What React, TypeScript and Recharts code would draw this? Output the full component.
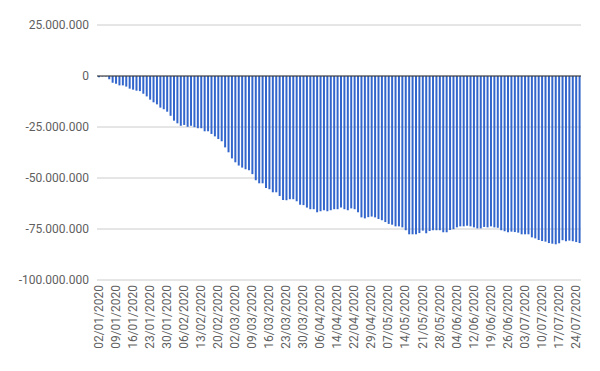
import { BarChart, Bar, XAxis, YAxis, CartesianGrid, ReferenceLine } from 'recharts';

// B3 trading days, 2020
const dates = [
  '02/01/2020', '03/01/2020', '06/01/2020', '07/01/2020', '08/01/2020', '09/01/2020', '10/01/2020', '13/01/2020', '14/01/2020', '15/01/2020',
  '16/01/2020', '17/01/2020', '20/01/2020', '21/01/2020', '22/01/2020', '23/01/2020', '24/01/2020', '27/01/2020', '28/01/2020', '29/01/2020',
  '30/01/2020', '31/01/2020', '03/02/2020', '04/02/2020', '05/02/2020', '06/02/2020', '07/02/2020', '10/02/2020', '11/02/2020', '12/02/2020',
  '13/02/2020', '14/02/2020', '17/02/2020', '18/02/2020', '19/02/2020', '20/02/2020', '21/02/2020', '26/02/2020', '27/02/2020', '28/02/2020',
  '02/03/2020', '03/03/2020', '04/03/2020', '05/03/2020', '06/03/2020', '09/03/2020', '10/03/2020', '11/03/2020', '12/03/2020', '13/03/2020',
  '16/03/2020', '17/03/2020', '18/03/2020', '19/03/2020', '20/03/2020', '23/03/2020', '24/03/2020', '25/03/2020', '26/03/2020', '27/03/2020',
  '30/03/2020', '31/03/2020', '01/04/2020', '02/04/2020', '03/04/2020', '06/04/2020', '07/04/2020', '08/04/2020', '09/04/2020', '13/04/2020',
  '14/04/2020', '15/04/2020', '16/04/2020', '17/04/2020', '20/04/2020', '22/04/2020', '23/04/2020', '24/04/2020', '27/04/2020', '28/04/2020',
  '29/04/2020', '30/04/2020', '04/05/2020', '05/05/2020', '06/05/2020', '07/05/2020', '08/05/2020', '11/05/2020', '12/05/2020', '13/05/2020',
  '14/05/2020', '15/05/2020', '18/05/2020', '19/05/2020', '20/05/2020', '21/05/2020', '22/05/2020', '25/05/2020', '26/05/2020', '27/05/2020',
  '28/05/2020', '29/05/2020', '01/06/2020', '02/06/2020', '03/06/2020', '04/06/2020', '05/06/2020', '08/06/2020', '09/06/2020', '10/06/2020',
  '12/06/2020', '15/06/2020', '16/06/2020', '17/06/2020', '18/06/2020', '19/06/2020', '22/06/2020', '23/06/2020', '24/06/2020', '25/06/2020',
  '26/06/2020', '29/06/2020', '30/06/2020', '01/07/2020', '02/07/2020', '03/07/2020', '06/07/2020', '07/07/2020', '08/07/2020', '09/07/2020',
  '10/07/2020', '13/07/2020', '14/07/2020', '15/07/2020', '16/07/2020', '17/07/2020', '20/07/2020', '21/07/2020', '22/07/2020', '23/07/2020',
  '24/07/2020', '27/07/2020',
];

// cumulative balance, in millions
const balance = [
  -0.6, -0.2, -0.2, -1.6, -3.3, -3.8, -4.6, -4.6, -5.2, -6.2,
  -6.7, -7.2, -7.4, -8.7, -10.0, -11.6, -12.9, -13.9, -15.5, -16.3,
  -17.5, -19.5, -21.9, -23.2, -24.4, -24.0, -24.9, -24.4, -25.1, -25.6,
  -25.6, -27.1, -27.1, -28.4, -29.6, -30.9, -32.0, -35.0, -37.4, -40.4,
  -42.3, -43.9, -44.9, -45.7, -46.2, -48.1, -51.1, -52.6, -52.6, -54.9,
  -55.5, -57.0, -57.0, -58.8, -60.8, -60.9, -60.4, -60.4, -61.4, -63.1,
  -63.3, -64.5, -65.3, -65.3, -66.8, -66.3, -65.8, -66.3, -65.8, -65.3,
  -65.3, -64.4, -65.3, -65.8, -64.9, -65.3, -66.8, -69.3, -69.8, -69.2,
  -68.9, -69.3, -70.1, -70.7, -71.6, -72.5, -72.9, -73.7, -73.7, -74.2,
  -75.6, -77.6, -77.6, -77.6, -77.0, -75.8, -77.1, -76.0, -75.6, -75.6,
  -75.6, -76.6, -76.6, -75.5, -75.1, -74.2, -73.7, -73.7, -73.4, -73.7,
  -74.2, -74.7, -74.7, -74.0, -74.2, -73.7, -74.2, -74.4, -75.6, -76.1,
  -76.6, -76.3, -76.5, -76.8, -77.6, -77.6, -77.6, -79.1, -79.6, -80.4,
  -80.9, -81.2, -81.9, -82.2, -82.5, -82.0, -80.5, -81.0, -80.7, -81.0,
  -81.4, -81.9,
];

const yTicks = [-100, -75, -50, -25, 0, 25];

const data = dates.map((date, i) => ({ date, value: balance[i] }));

const formatMillions = (v: number) =>
  Math.round(v * 1000000)
    .toString()
    .replace(/\B(?=(\d{3})+(?!\d))/g, '.');

const XTick = ({ x, payload }: any) => (
  <g transform={`translate(${x},285)`}>
    <text
      transform="rotate(-90)"
      textAnchor="end"
      dy={4}
      fill="#5f5f5f"
      fontSize={12}
      fontFamily="Roboto"
    >
      {payload.value}
    </text>
  </g>
);

export default function App() {
  return (
    <div style={{ width: 600, height: 371, background: '#fff' }}>
      <style>{'body{margin:0}'}</style>
      <BarChart
        width={600}
        height={371}
        data={data}
        margin={{ top: 25, right: 19, left: 0, bottom: 0 }}
      >
        <CartesianGrid vertical={false} stroke="#ccc" />
        <XAxis
          dataKey="date"
          interval={4}
          axisLine={false}
          tickLine={false}
          height={91}
          tick={<XTick />}
        />
        <YAxis
          domain={[-100, 25]}
          ticks={yTicks}
          width={97}
          axisLine={false}
          tickLine={false}
          tickFormatter={formatMillions}
          tick={{ fill: '#5f5f5f', fontSize: 12, fontFamily: 'Roboto' }}
        />
        <Bar dataKey="value" fill="#3366cc" barSize={2} isAnimationActive={false} />
        <ReferenceLine y={0} stroke="#333" />
      </BarChart>
    </div>
  );
}
